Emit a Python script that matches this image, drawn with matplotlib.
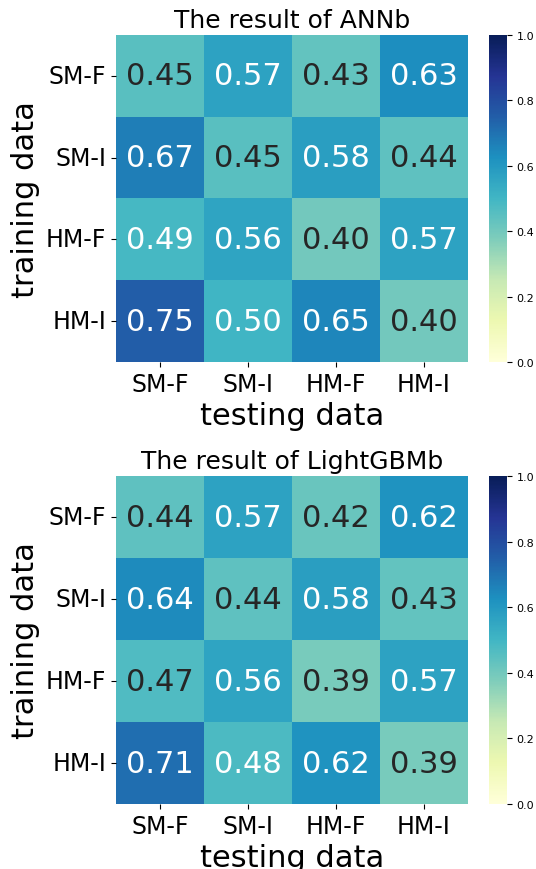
import matplotlib
matplotlib.use('Agg')
import matplotlib.pyplot as plt
import seaborn as sns
import numpy as np

# Etiquetas de los datos
labels = ['SM-F', 'SM-I', 'HM-F', 'HM-I']

# Resultados de ANNb (filas: entrenamiento, columnas: prueba)
ann_values = [
    [0.45, 0.57, 0.43, 0.63],
    [0.67, 0.45, 0.58, 0.44],
    [0.49, 0.56, 0.40, 0.57],
    [0.75, 0.50, 0.65, 0.40],
]

# Resultados de LightGBMb
lgbm_values = [
    [0.44, 0.57, 0.42, 0.62],
    [0.64, 0.44, 0.58, 0.43],
    [0.47, 0.56, 0.39, 0.57],
    [0.71, 0.48, 0.62, 0.39],
]

titles = ['The result of ANNb', 'The result of LightGBMb']


def plotHeatmap(ax, cax, values, title):
    sns.heatmap(np.array(values), ax=ax, cbar_ax=cax, cmap='YlGnBu', vmin=0, vmax=1,
                annot=True, fmt='.2f', annot_kws={'size': 22},
                xticklabels=labels, yticklabels=labels)
    ax.set_title(title, fontsize=18)
    ax.set_xlabel('testing data', fontsize=22)
    ax.set_ylabel('training data', fontsize=22)
    ax.tick_params(axis='both', labelsize=17)
    ax.set_yticklabels(labels, rotation=0)
    cax.tick_params(labelsize=8)


fig = plt.figure(figsize=(5.36, 8.7))
# posiciones [izq, abajo, ancho, alto]
ax1 = fig.add_axes([0.2164, 0.5828, 0.6567, 0.3759])
cax1 = fig.add_axes([0.9123, 0.5828, 0.0336, 0.3759])
ax2 = fig.add_axes([0.2164, 0.0747, 0.6567, 0.3770])
cax2 = fig.add_axes([0.9123, 0.0747, 0.0336, 0.3770])

plotHeatmap(ax1, cax1, ann_values, titles[0])
plotHeatmap(ax2, cax2, lgbm_values, titles[1])

plt.savefig('out.png', dpi=100)
